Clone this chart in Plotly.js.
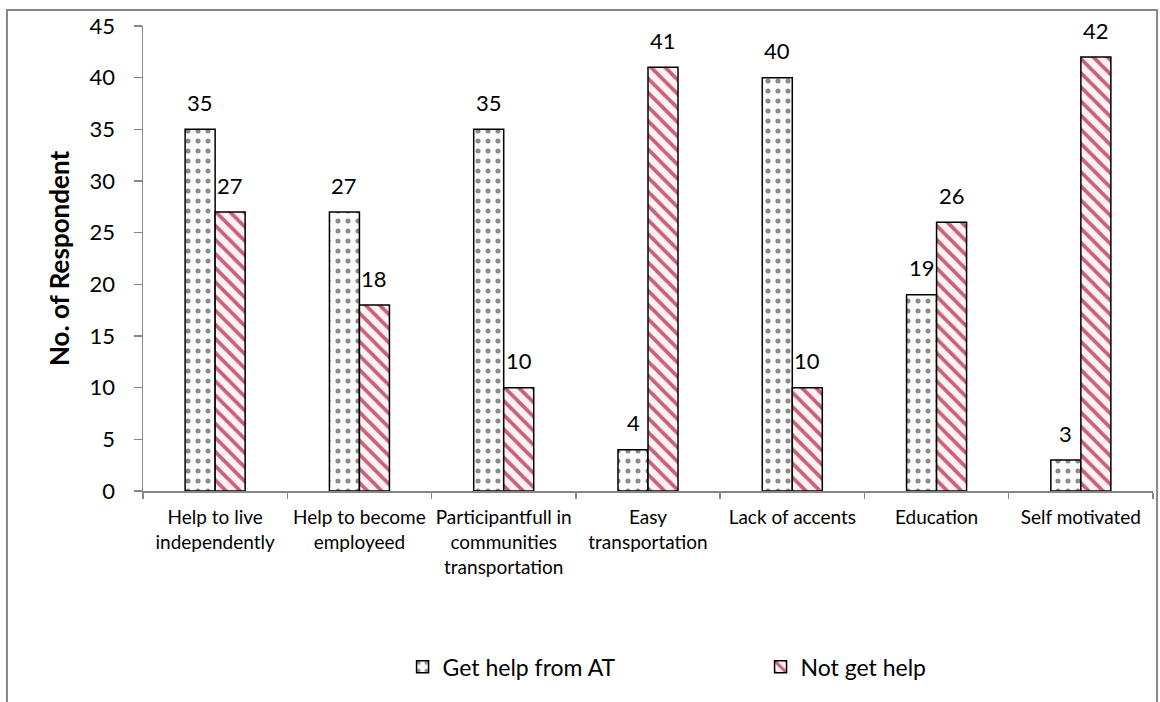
<!DOCTYPE html>
<html><head><meta charset="utf-8">
<script src="https://cdn.plot.ly/plotly-3.0.1.min.js"></script>
<style>html,body{margin:0;padding:0;background:#fff}#chart{width:1160px;height:702px}</style>
</head><body><div id="chart"></div>
<script>
const categories = ["Help to live<br>independently","Help to become<br>employeed","Participantfull in<br>communities<br>transportation","Easy<br>transportation","Lack of accents","Education","Self motivated"];
const seriesNames = ["Get help from AT","Not get help"];
const getHelp = [35,27,35,4,40,19,3];
const notGetHelp = [27,18,10,41,10,26,42];
const yTicks = [0,5,10,15,20,25,30,35,40,45];

const FONT = "Lato, 'Open Sans', sans-serif";
const traces = [
  {type:'bar', name:seriesNames[0], x:categories, y:getHelp,
   marker:{color:'#ffffff', line:{color:'#000000', width:1.5},
     pattern:{shape:'.', fgcolor:'#8a8a8a', bgcolor:'#fbfbfb', size:10, solidity:0.2}},
   hoverinfo:'skip'},
  {type:'bar', name:seriesNames[1], x:categories, y:notGetHelp,
   marker:{color:'#ffffff', line:{color:'#000000', width:1.5},
     pattern:{shape:'\\', fgcolor:'#c8607a', bgcolor:'#fdf2f3', size:10, solidity:0.38}},
   hoverinfo:'skip'}
];
const annotations = [];
[getHelp, notGetHelp].forEach((arr, si) => {
  arr.forEach((v, i) => annotations.push({x:categories[i], y:v, xref:'x', yref:'y',
    text:String(v), showarrow:false, xshift: si===0 ? -15 : 15, yshift:27,
    font:{family:FONT, size:22, color:'#000'}}));
});
const layout = {
  width:1160, height:702, margin:{l:143, r:7, t:26, b:211},
  paper_bgcolor:'#fff', plot_bgcolor:'#fff',
  barmode:'group', bargap:0.584, bargroupgap:0,
  font:{family:FONT, color:'#000'},
  showlegend:true,
  legend:{orientation:'h', x:0.257, xanchor:'left', y:-0.378, yanchor:'middle',
    bgcolor:'rgba(0,0,0,0)',
    font:{family:FONT, size:23, color:'#000'}, entrywidth:313, entrywidthmode:'pixels',
    itemclick:false, itemdoubleclick:false},
  xaxis:{type:'category', showline:true, linecolor:'#868686', linewidth:1.5,
    ticks:'outside', tickson:'boundaries', ticklen:6, tickcolor:'#868686', tickwidth:1.5,
    showgrid:false, zeroline:false, tickangle:0, automargin:false, ticklabelstandoff:9,
    tickfont:{family:FONT, size:19, color:'#000'}, fixedrange:true},
  yaxis:{range:[0,45], tickvals:yTicks, showline:true, linecolor:'#868686', linewidth:1.5,
    ticks:'outside', ticklen:8, tickcolor:'#868686', tickwidth:1.5, showgrid:false, zeroline:false,
    automargin:false,
    tickfont:{family:FONT, size:22, color:'#000'}, ticklabelstandoff:14,
    title:{text:'<b>No. of Respondent</b>', font:{family:FONT, size:26, color:'#000'}, standoff:12},
    fixedrange:true},
  shapes:[{type:'rect', xref:'paper', yref:'paper', x0:-0.1347, x1:1.004, y0:1.0344, y1:-0.6,
    line:{color:'#868686', width:2}, fillcolor:'rgba(0,0,0,0)', layer:'below'}],
  annotations: annotations
};
Plotly.newPlot('chart', traces, layout, {displayModeBar:false, staticPlot:true});
</script></body></html>
